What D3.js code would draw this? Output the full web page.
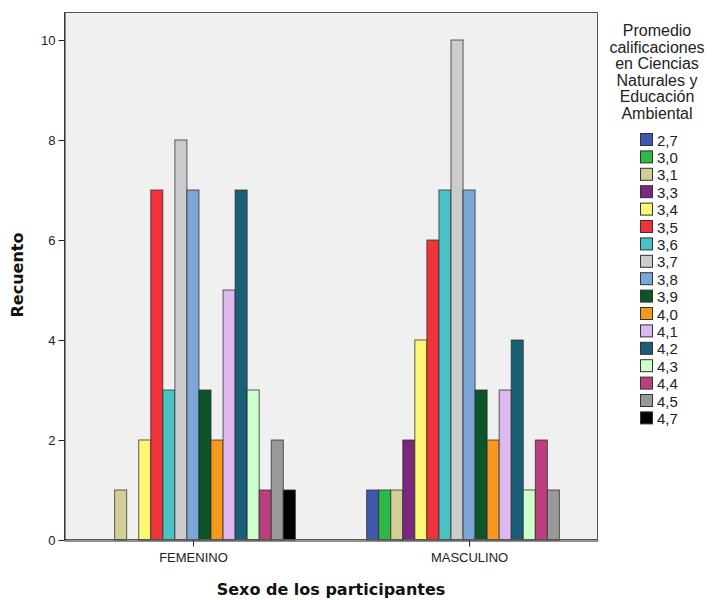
<!DOCTYPE html>
<html>
<head>
<meta charset="utf-8">
<script src="https://cdn.jsdelivr.net/npm/d3@7"></script>
<style>
  html, body { margin: 0; padding: 0; background: #fff; }
  svg { display: block; }
</style>
</head>
<body>
<svg id="chart" width="712" height="600"></svg>
<script>
const sexes = ["FEMENINO", "MASCULINO"];
const grades = ["2,7","3,0","3,1","3,3","3,4","3,5","3,6","3,7","3,8","3,9","4,0","4,1","4,2","4,3","4,4","4,5","4,7"];
const femenino  = [0,0,1,0,2,7,3,8,7,3,2,5,7,3,1,2,1];
const masculino = [1,1,1,2,4,6,7,10,7,3,2,3,4,1,2,1,0];
const colors = ["#3e58ac","#2eb848","#d3ce97","#7b277d","#fbf873","#ef3338","#48c2c5","#cccccc",
                "#7ba7d7","#0b5529","#f8981d","#ddb9f0","#1b5f77","#ccffcc","#bb3f7f","#999999","#000000"];
const yTicks = [0,2,4,6,8,10];
const legendTitle = ["Promedio","calificaciones","en Ciencias","Naturales y","Educación","Ambiental"];
const yTitle = "Recuento";
const xTitle = "Sexo de los participantes";

const seriesBySex = { "FEMENINO": femenino, "MASCULINO": masculino };
const rows = [];
sexes.forEach(s => grades.forEach((g, i) => rows.push({ sex: s, grade: g, value: seriesBySex[s][i] })));

const svg = d3.select("#chart");
const L = 64, R = 598, T = 12, B = 540;

const y = d3.scaleLinear().domain([0, 10.56]).range([B, T]);
const x0 = d3.scalePoint().domain(sexes).range([L, R]).padding(0.467);
const groupW = 204.8;
const x1 = d3.scaleBand().domain(grades).range([-groupW / 2, groupW / 2]);
const color = d3.scaleOrdinal().domain(grades).range(colors);

// plot background
svg.append("rect").attr("x", L).attr("y", T).attr("width", R - L).attr("height", B - T)
  .attr("fill", "#f0f0f0");

// bars
svg.append("g").selectAll("rect").data(rows.filter(d => d.value > 0)).join("rect")
  .attr("x", d => x0(d.sex) + x1(d.grade))
  .attr("y", d => y(d.value))
  .attr("width", x1.bandwidth())
  .attr("height", d => B - y(d.value))
  .attr("fill", d => color(d.grade))
  .attr("stroke", "#2a2a2a")
  .attr("stroke-opacity", 0.75)
  .attr("stroke-width", 1);

// frame
svg.append("rect").attr("x", L + 0.5).attr("y", T + 0.5).attr("width", R - L - 1).attr("height", B - T - 1)
  .attr("fill", "none").attr("stroke", "#555").attr("stroke-width", 1);

// y axis
const yAxis = svg.append("g").attr("transform", `translate(${L + 0.5},0)`)
  .call(d3.axisLeft(y).tickValues(yTicks).tickSizeInner(6).tickSizeOuter(0).tickPadding(3).tickFormat(d3.format("d")));
yAxis.select(".domain").attr("stroke", "#222");
yAxis.selectAll(".tick line").attr("stroke", "#222");
yAxis.selectAll("text").attr("font-family", "Liberation Sans, Arial, sans-serif").attr("font-size", 13).attr("fill", "#222");

// x axis
const xAxis = svg.append("g").attr("transform", `translate(0,${B + 0.5})`)
  .call(d3.axisBottom(x0).tickSizeInner(6).tickSizeOuter(0).tickPadding(6));
xAxis.select(".domain").attr("stroke", "#222");
xAxis.selectAll(".tick line").attr("stroke", "#222");
xAxis.selectAll("text").attr("font-family", "Liberation Sans, Arial, sans-serif").attr("font-size", 13).attr("fill", "#222");

// axis titles
svg.append("text").attr("transform", "translate(23,275) rotate(-90)")
  .attr("text-anchor", "middle").attr("font-family", "DejaVu Sans, sans-serif")
  .attr("font-weight", "bold").attr("font-size", 16).attr("fill", "#111").text(yTitle);
svg.append("text").attr("x", 331).attr("y", 595)
  .attr("text-anchor", "middle").attr("font-family", "DejaVu Sans, sans-serif")
  .attr("font-weight", "bold").attr("font-size", 16).attr("fill", "#111").text(xTitle);

// legend
const lg = svg.append("g");
lg.selectAll("text.lt").data(legendTitle).join("text").attr("class", "lt")
  .attr("x", 657).attr("y", (d, i) => 36 + i * 16.5)
  .attr("text-anchor", "middle").attr("font-family", "Liberation Sans, Arial, sans-serif")
  .attr("font-size", 16).attr("fill", "#222").text(d => d);

const items = lg.selectAll("g.item").data(grades).join("g").attr("class", "item")
  .attr("transform", (d, i) => `translate(0,${140 + i * 17.4})`);
items.append("rect").attr("x", 640.5).attr("y", -6.5).attr("width", 12).attr("height", 12)
  .attr("fill", d => color(d)).attr("stroke", "#333").attr("stroke-width", 1);
items.append("text").attr("x", 657).attr("y", 5.5)
  .attr("font-family", "Liberation Sans, Arial, sans-serif").attr("font-size", 15)
  .attr("fill", "#222").text(d => d);
</script>
</body>
</html>
